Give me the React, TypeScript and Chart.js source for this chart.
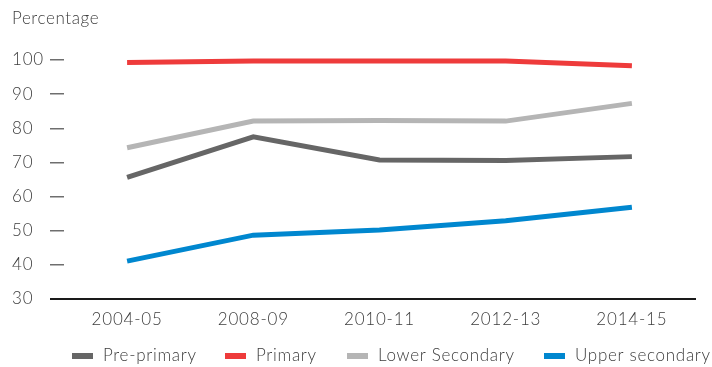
import React, { useEffect, useRef } from "react";
import { Chart, registerables } from "chart.js";

Chart.register(...registerables);

// School years on the horizontal axis
const categories = ["2004-05", "2008-09", "2010-11", "2012-13", "2014-15"];

// Rates per level of education (%)
const prePrimary = [65.6, 77.5, 70.7, 70.6, 71.7];
const primary = [99.3, 99.7, 99.7, 99.7, 98.3];
const lowerSecondary = [74.3, 82.1, 82.3, 82.1, 87.3];
const upperSecondary = [41.1, 48.7, 50.2, 52.9, 56.9];

const seriesLabels = ["Pre-primary", "Primary", "Lower Secondary", "Upper secondary"];
const seriesColors = ["#666666", "#ee3b3b", "#b5b5b5", "#0087cf"];

// Y axis range
const yMin = 30;
const yMax = 100;
const yStep = 10;

const FONT_FAMILY = "Lato, 'Open Sans', sans-serif";
const TEXT_COLOR = "#3c3c3c";
const LETTER_SPACING = "0.8px";

// Slightly tracked-out lettering for every label drawn on the canvas
const trackingPlugin = {
  id: "tracking",
  beforeDraw(chart: any) {
    (chart.ctx as any).letterSpacing = LETTER_SPACING;
  },
};

// "Percentage" heading above the value axis
const headingPlugin = {
  id: "axisHeading",
  afterDraw(chart: any) {
    const { ctx } = chart;
    ctx.save();
    ctx.letterSpacing = "0.6px";
    ctx.font = `300 17px ${FONT_FAMILY}`;
    ctx.fillStyle = TEXT_COLOR;
    ctx.textAlign = "left";
    ctx.textBaseline = "middle";
    ctx.fillText("Percentage", 12, 19);
    ctx.restore();
  },
};

// Legend key positions along the bottom row
const legendKeyX = [72, 225, 347, 544];

// Row of legend keys under the category axis
const legendPlugin = {
  id: "bottomLegend",
  afterDraw(chart: any) {
    const { ctx } = chart;
    ctx.save();
    ctx.letterSpacing = "0.7px";
    ctx.font = `300 17px ${FONT_FAMILY}`;
    ctx.textAlign = "left";
    ctx.textBaseline = "middle";
    const y = 356;
    chart.data.datasets.forEach((ds: any, i: number) => {
      const x = legendKeyX[i];
      ctx.fillStyle = ds.borderColor;
      ctx.fillRect(x, y - 3, 21, 6);
      ctx.fillStyle = TEXT_COLOR;
      ctx.fillText(ds.label, x + 31, y);
    });
    ctx.restore();
  },
};

export default function App() {
  const canvasRef = useRef<HTMLCanvasElement | null>(null);

  useEffect(() => {
    document.body.style.margin = "0";
    const canvas = canvasRef.current;
    if (!canvas) return;

    const values = [prePrimary, primary, lowerSecondary, upperSecondary];

    const chart = new Chart(canvas, {
      type: "line",
      data: {
        labels: categories,
        datasets: values.map((data, i) => ({
          label: seriesLabels[i],
          data,
          borderColor: seriesColors[i],
          backgroundColor: seriesColors[i],
          borderWidth: 5,
          pointRadius: 0,
          pointHoverRadius: 0,
          tension: 0,
          fill: false,
          clip: false as any,
          borderCapStyle: "butt" as const,
          borderJoinStyle: "miter" as const,
        })),
      },
      options: {
        animation: false,
        responsive: false,
        devicePixelRatio: 1,
        layout: {
          padding: { top: 60, left: 12, right: 17, bottom: 38 },
        },
        plugins: {
          legend: { display: false },
          title: { display: false },
          tooltip: { enabled: false },
        },
        scales: {
          x: {
            type: "category",
            offset: true,
            grid: { display: false, drawTicks: false },
            border: { display: true, color: "#1a1a1a", width: 2 },
            ticks: {
              color: TEXT_COLOR,
              padding: 10,
              maxRotation: 0,
              autoSkip: false,
              font: { family: FONT_FAMILY, size: 17, weight: "300" as any },
            },
            afterFit(scale: any) {
              scale.height = 30;
            },
          },
          y: {
            type: "linear",
            min: yMin,
            max: yMax,
            grid: {
              display: true,
              drawOnChartArea: false,
              drawTicks: true,
              tickLength: 14,
              color: (ctx: any) => (ctx.tick && ctx.tick.value === yMin ? "#1a1a1a" : "#6e6e6e"),
              lineWidth: (ctx: any) => (ctx.tick && ctx.tick.value === yMin ? 2 : 1.5),
            },
            border: { display: false },
            ticks: {
              stepSize: yStep,
              color: TEXT_COLOR,
              padding: 8,
              crossAlign: "far",
              font: { family: FONT_FAMILY, size: 17, weight: "300" as any },
            },
            afterFit(scale: any) {
              scale.width = 52;
            },
          },
        },
      },
      plugins: [trackingPlugin, headingPlugin, legendPlugin],
    });

    return () => chart.destroy();
  }, []);

  return (
    <div style={{ width: 712, height: 367, background: "#ffffff" }}>
      <canvas ref={canvasRef} width={712} height={367} style={{ display: "block" }} />
    </div>
  );
}
